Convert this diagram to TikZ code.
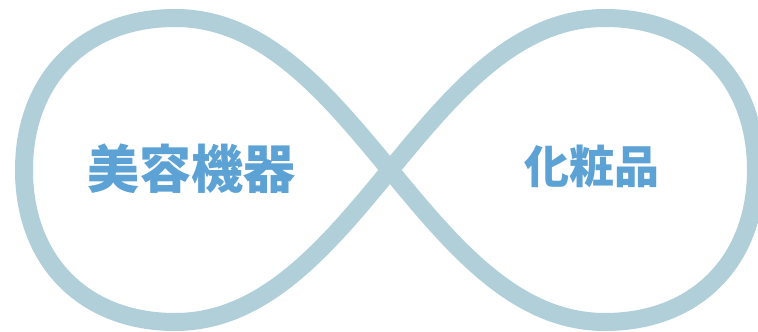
\documentclass[tikz,border=0pt]{standalone}
\usepackage{fontspec}
\newfontfamily\cjk{Noto Sans CJK JP}
\definecolor{loopc}{HTML}{B0CFD9}
\definecolor{textc}{HTML}{5DA2D5}
\tikzset{
  infloop/.style={draw=loopc, line width=18pt, line join=round},
  lbl/.style={text=textc, font=\cjk\bfseries, inner sep=0pt, anchor=center}
}
\begin{document}
\begin{tikzpicture}[x=1pt,y=-1pt]
\useasboundingbox (0,0) rectangle (758,332);
\fill[white] (0,0) rectangle (758,332);
\draw[infloop] (390,170) .. controls (328,95) and (265,18) .. (175,18)
  .. controls (84,18) and (24,79) .. (24,170)
  .. controls (24,261) and (84,322) .. (175,322)
  .. controls (265,322) and (328,245) .. (390,170)
  .. controls (452,95) and (515,18) .. (605,18)
  .. controls (696,18) and (756,79) .. (756,170)
  .. controls (756,261) and (696,322) .. (605,322)
  .. controls (515,322) and (452,245) .. (390,170) -- cycle;
\node[lbl, font=\cjk\bfseries\fontsize{52}{52}\selectfont] (beauty) at (191,169) {美容機器};
\node[lbl, font=\cjk\bfseries\fontsize{45}{45}\selectfont] (cosme) at (592,166) {化粧品};
\end{tikzpicture}
\end{document}
